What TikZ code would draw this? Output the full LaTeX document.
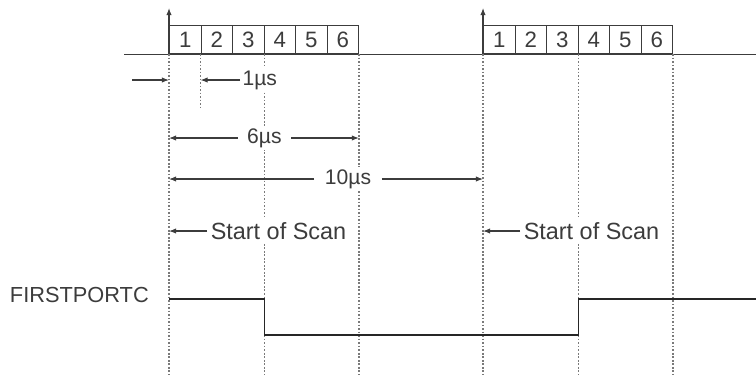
\documentclass[tikz,border=0pt]{standalone}
\usepackage{fontspec}
\setmainfont{Liberation Sans}
\usetikzlibrary{arrows.meta,positioning,calc}
\definecolor{guidegray}{HTML}{7A7A7A}
\definecolor{inkgray}{HTML}{3C3C3C}

\begin{document}
\begin{tikzpicture}[x=0.03cm, y=-0.03cm,
    slot/.style={draw=inkgray, line width=0.8pt, minimum width=0.945cm, minimum height=0.84cm,
                 inner sep=0pt, anchor=south west, font=\fontsize{19}{19}\selectfont, text=inkgray},
    guide/.style={guidegray, line width=1.6pt, dash pattern=on 1.5pt off 1.5pt},
    dim/.style={-{Latex[length=6pt,width=4.5pt]}, inkgray, line width=0.9pt},
    lbl/.style={fill=white, inner sep=2pt, font=\fontsize{18}{18}\selectfont, text=inkgray},
    big/.style={fill=white, inner sep=3pt, font=\fontsize{20}{20}\selectfont, text=inkgray},
    signal/.style={black!85, line width=1.6pt}]
    \useasboundingbox (0,0) rectangle (756,381);
    % levels
    \coordinate (top) at (0,8);
    \coordinate (lvlOne) at (0,80);
    \coordinate (lvlSix) at (0,138);
    \coordinate (lvlTen) at (0,179);
    \coordinate (lvlStart) at (0,231);
    \coordinate (hi) at (0,299);
    \coordinate (lo) at (0,335);
    \coordinate (bot) at (0,375);
    \coordinate (baseL) at (124,54);
    \coordinate (baseR) at (756,54);
    % time slots
    \foreach \i in {1,...,6} {
        \node[slot] (a\i) at ({169+31.5*(\i-1)},54) {\i};
        \node[slot] (b\i) at ({483+31.5*(\i-1)},54) {\i};
    }
    \draw[inkgray, line width=0.8pt] (baseL) -- (baseR);
    \draw[dim] (a1.south west) -- (a1.south west |- top);
    \draw[dim] (b1.south west) -- (b1.south west |- top);
    % guides
    \foreach \n/\a in {a1/south west, a3/south east, a6/south east, b1/south west, b3/south east, b6/south east}
        \draw[guide] (\n.\a) -- (\n.\a |- bot);
    \draw[guide] (a2.south west) -- ++(0,56);
    % timing marks
    \coordinate (inL) at (132,80);
    \draw[dim] (inL) -- (a1.south west |- lvlOne);
    \node[lbl, anchor=west] (one) at (240,80) {1µs};
    \draw[dim] (one.west) -- (a2.south west |- one);
    \node[lbl, inner xsep=8pt] (six) at (a3.south east |- lvlSix) {6µs};
    \draw[dim] (six.west) -- (a1.south west |- six);
    \draw[dim] (six.east) -- (a6.south east |- six);
    \node[lbl, inner xsep=9pt] (ten) at (348,179) {10µs};
    \draw[dim] (ten.west) -- (a1.south west |- ten);
    \draw[dim] (ten.east) -- (b1.south west |- ten);
    \node[big, anchor=west] (sosA) at (207,231) {Start of Scan};
    \draw[dim] (sosA.west) -- (a1.south west |- sosA);
    \node[big, anchor=west] (sosB) at (520,231) {Start of Scan};
    \draw[dim] (sosB.west) -- (b1.south west |- sosB);
    % signal
    \node[anchor=east, inner sep=0pt, font=\fontsize{18.6}{19}\selectfont, text=inkgray] (port) at (149,295) {FIRSTPORTC};
    \coordinate (sigEnd) at (756,299);
    \draw[signal] (a1.south west |- hi) -- (a3.south east |- hi) -- (a3.south east |- lo)
        -- (b3.south east |- lo) -- (b3.south east |- hi) -- (sigEnd);
\end{tikzpicture}
\end{document}
